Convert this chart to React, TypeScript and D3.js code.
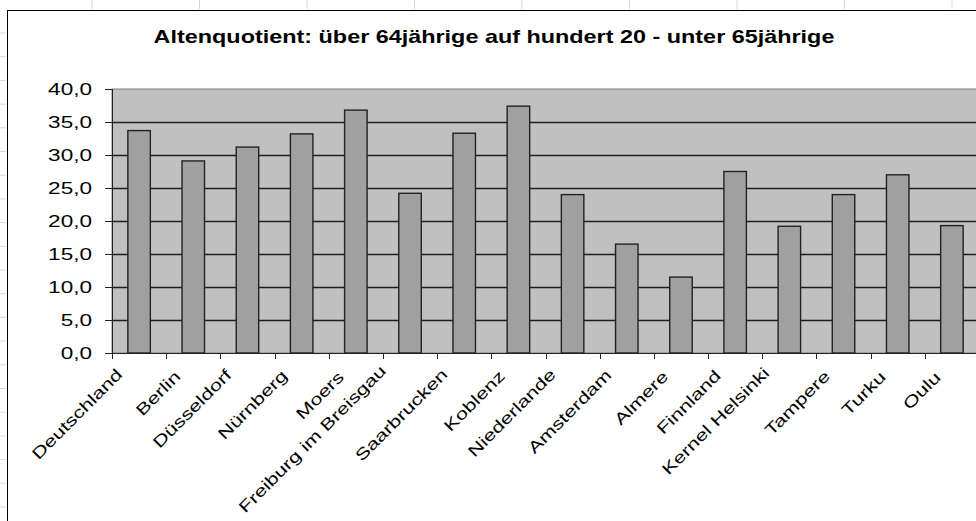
import React from "react";
import * as d3 from "d3";

const categories = [
  "Deutschland", "Berlin", "Düsseldorf", "Nürnberg", "Moers", "Freiburg im Breisgau",
  "Saarbrucken", "Koblenz", "Niederlande", "Amsterdam", "Almere", "Finnland",
  "Kernel Helsinki", "Tampere", "Turku", "Oulu",
];
const values = [33.7, 29.1, 31.2, 33.2, 36.8, 24.2, 33.3, 37.4, 24.0, 16.5, 11.5, 27.5, 19.2, 24.0, 27.0, 19.3];
const yTicks = [0, 5, 10, 15, 20, 25, 30, 35, 40];
const title = "Altenquotient: über 64jährige auf hundert 20 - unter 65jährige";

const W = 976, H = 521;
const plot = { left: 112, right: 979, top: 89, bottom: 353 };
const FONT = "'Liberation Sans', Arial, sans-serif";

export default function App() {
  const x = d3.scaleBand<string>()
    .domain(categories)
    .range([plot.left, plot.right])
    .paddingInner(0.585)
    .paddingOuter(0.2925);
  const y = d3.scaleLinear().domain([0, 40]).range([plot.bottom, plot.top]);
  const step = x.step();
  const boundaries = d3.range(categories.length + 1).map((i) => plot.left + i * step);
  const fmt = (v: number) => v.toFixed(1).replace(".", ",");

  const topMarks = d3.range(9).map((i) => 92 + i * 107.5);
  const leftMarks = d3.range(21).map((i) => 33 + i * 23.7);

  return (
    <svg width={W} height={H} style={{ position: "absolute", left: 0, top: 0, background: "#fff" }}>
      {/* faint sheet gridlines outside the chart frame */}
      {topMarks.map((mx, i) => (
        <line key={"tm" + i} x1={mx} x2={mx} y1={0} y2={9} stroke="#d8d8d8" strokeWidth={1} />
      ))}
      {leftMarks.map((my, i) => (
        <line key={"lm" + i} x1={0} x2={6} y1={my} y2={my} stroke="#d8d8d8" strokeWidth={1} />
      ))}
      {/* chart frame */}
      <rect x={7.5} y={10.5} width={1000} height={600} fill="#fff" stroke="#000" strokeWidth={1} />

      {/* title */}
      <text
        transform={`translate(494,43) scale(1.3,1)`}
        textAnchor="middle"
        fontFamily={FONT}
        fontWeight="bold"
        fontSize={18}
        fill="#000"
      >
        {title}
      </text>

      {/* plot area */}
      <rect x={plot.left} y={plot.top} width={plot.right - plot.left} height={plot.bottom - plot.top} fill="#c0c0c0" stroke="#808080" strokeWidth={1} />

      {/* gridlines */}
      {yTicks.filter((t) => t > 0 && t < 40).map((t) => (
        <line key={"g" + t} x1={plot.left} x2={plot.right} y1={Math.round(y(t)) + 0.5} y2={Math.round(y(t)) + 0.5} stroke="#1e1e1e" strokeWidth={1.3} />
      ))}

      {/* bars */}
      {categories.map((c, i) => (
        <rect
          key={c}
          x={x(c)!}
          y={y(values[i])}
          width={x.bandwidth()}
          height={plot.bottom - y(values[i])}
          fill="#a0a0a0"
          stroke="#222"
          strokeWidth={1.4}
        />
      ))}

      {/* y axis */}
      <line x1={plot.left + 0.5} x2={plot.left + 0.5} y1={plot.top} y2={plot.bottom + 6} stroke="#222" strokeWidth={1} />
      {yTicks.map((t) => (
        <g key={"yt" + t}>
          <line x1={plot.left - 7} x2={plot.left} y1={Math.round(y(t)) + 0.5} y2={Math.round(y(t)) + 0.5} stroke="#222" strokeWidth={1} />
          <text
            transform={`translate(92,${y(t) + 5.7}) scale(1.41,1)`}
            textAnchor="end"
            fontFamily={FONT}
            fontSize={16}
            fill="#000"
          >
            {fmt(t)}
          </text>
        </g>
      ))}

      {/* x axis */}
      <line x1={plot.left} x2={plot.right} y1={plot.bottom + 0.5} y2={plot.bottom + 0.5} stroke="#222" strokeWidth={1} />
      {boundaries.map((bx, i) => (
        <line key={"xt" + i} x1={Math.round(bx) + 0.5} x2={Math.round(bx) + 0.5} y1={plot.bottom} y2={plot.bottom + 6} stroke="#222" strokeWidth={1} />
      ))}
      {categories.map((c) => {
        const cx = x(c)! + x.bandwidth() / 2;
        const n = c.length;
        const px = cx - 7 - 0.8 * n;
        const py = 380 - 0.4 * n;
        return (
          <text
            key={"xl" + c}
            transform={`translate(${px},${py}) rotate(-45) scale(1.35,1)`}
            textAnchor="end"
            fontFamily={FONT}
            fontSize={16}
            fill="#000"
          >
            {c}
          </text>
        );
      })}
    </svg>
  );
}
